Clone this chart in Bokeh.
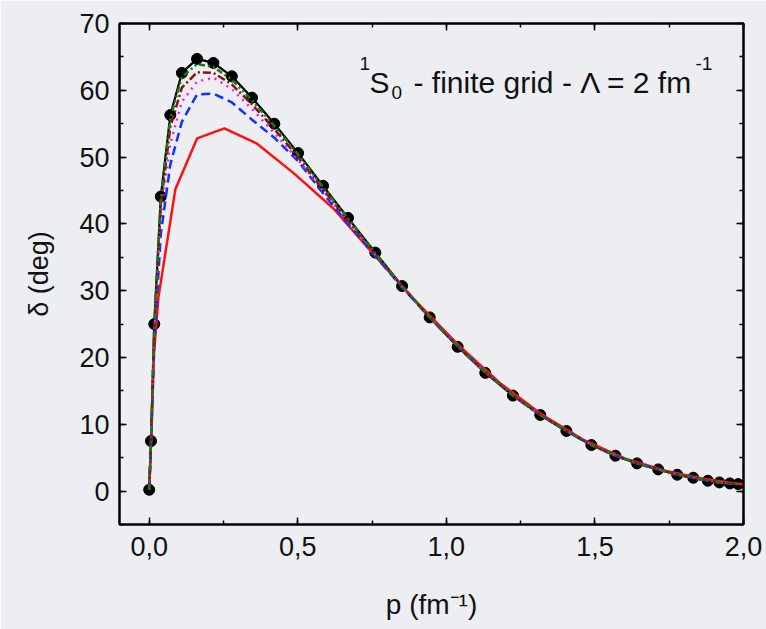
from bokeh.plotting import figure
from bokeh.models import Range1d, LinearAxis, SingleIntervalTicker, CustomJSTickFormatter, Label
from bokeh.embed import file_html
from bokeh.resources import INLINE

# ---- data ----
p_grid = [0.0, 0.006, 0.017, 0.039, 0.071, 0.110, 0.161, 0.216, 0.278, 0.346, 0.421, 0.501,
          0.585, 0.669, 0.761, 0.851, 0.944, 1.038, 1.131, 1.224, 1.316, 1.404, 1.488, 1.569,
          1.642, 1.713, 1.777, 1.831, 1.880, 1.919, 1.954, 1.982]
delta_black = [0.2, 7.5, 25.0, 44.1, 56.3, 62.6, 64.7, 64.1, 62.1, 58.9, 55.0, 50.6,
               45.7, 40.9, 35.7, 30.7, 26.0, 21.6, 17.7, 14.3, 11.4, 9.0, 6.9, 5.3,
               4.15, 3.25, 2.45, 2.0, 1.55, 1.3, 1.15, 1.05]
delta_green = [0.2, 7.4, 24.8, 43.7, 55.8, 62.0, 63.9, 63.5, 61.6, 58.5, 54.7, 50.4,
               45.5, 40.8, 35.6, 30.7, 26.0, 21.7, 17.8, 14.3, 11.4, 9.0, 6.9, 5.3,
               4.15, 3.25, 2.45, 2.0, 1.55, 1.3, 1.15, 1.05]
delta_darkred = [0.2, 7.3, 24.4, 42.8, 54.5, 60.4, 62.7, 62.6, 60.9, 57.9, 54.2, 50.0,
                 45.2, 40.5, 35.5, 30.6, 26.0, 21.7, 17.8, 14.3, 11.4, 9.0, 6.9, 5.3,
                 4.15, 3.25, 2.45, 2.0, 1.55, 1.3, 1.15, 1.05]
delta_magenta = [0.2, 7.2, 24.0, 41.5, 52.0, 58.3, 61.3, 61.9, 60.2, 57.2, 53.6, 49.6,
                 45.0, 40.3, 35.4, 30.6, 26.0, 21.7, 17.8, 14.3, 11.4, 9.0, 6.9, 5.3,
                 4.15, 3.25, 2.45, 2.0, 1.55, 1.3, 1.15, 1.05]
delta_blue = [0.2, 7.0, 22.0, 38.5, 48.9, 55.3, 59.4, 59.5, 58.2, 55.6, 52.9, 49.4,
              44.6, 40.0, 35.2, 30.5, 26.0, 21.7, 17.8, 14.3, 11.4, 9.0, 6.9, 5.3,
              4.15, 3.25, 2.45, 2.0, 1.55, 1.3, 1.15, 1.05]
p_red = [0.0, 0.006, 0.016, 0.031, 0.088, 0.161, 0.253, 0.363, 0.486, 0.62, 0.76, 0.90,
         1.04, 1.18, 1.32, 1.46, 1.60, 1.74, 1.86, 1.95, 2.0]
delta_red = [0.2, 7.0, 20.5, 29.0, 45.2, 52.8, 54.3, 52.0, 47.6, 42.3, 35.2, 28.3,
             21.9, 16.2, 11.5, 7.7, 4.9, 3.0, 1.9, 1.3, 1.0]

X_RANGE = (-0.1, 2.0)
Y_RANGE = (-5, 70)
BG = "#eceef2"
FONT = "Liberation Sans"
INK = "#111111"

W, H = 766, 629
FL, FR, FT, FB = 119, 743, 23, 524  # frame edges in pixels

p = figure(width=W, height=H, x_range=Range1d(*X_RANGE), y_range=Range1d(*Y_RANGE),
           output_backend="svg", toolbar_location=None,
           min_border_left=FL, min_border_right=W - FR, min_border_top=FT, min_border_bottom=H - FB)
p.background_fill_color = BG
p.border_fill_color = BG
p.outline_line_color = "black"
p.outline_line_width = 2
p.grid.visible = False

xt = SingleIntervalTicker(interval=0.5, num_minor_ticks=2)
yt = SingleIntervalTicker(interval=10, num_minor_ticks=2)

blank = CustomJSTickFormatter(code="return '';")
top = LinearAxis(ticker=xt, formatter=blank)
right = LinearAxis(ticker=yt, formatter=blank)
p.add_layout(top, "above")
p.add_layout(right, "right")

for ax in p.xaxis:
    ax.ticker = xt
for ax in p.yaxis:
    ax.ticker = yt

for ax in list(p.xaxis) + list(p.yaxis):
    ax.axis_line_width = 2
    ax.major_tick_in = 7
    ax.major_tick_out = 0
    ax.minor_tick_in = 4
    ax.minor_tick_out = 0
    ax.major_tick_line_width = 1.5
    ax.minor_tick_line_width = 1.5
    ax.major_label_text_font = FONT
    ax.major_label_text_font_size = "27px"
    ax.major_label_text_color = INK
    ax.axis_label_text_font = FONT
    ax.axis_label_text_font_size = "28px"
    ax.axis_label_text_font_style = "normal"
    ax.axis_label_text_color = INK

top.major_label_standoff = 0
right.major_label_standoff = 0

bottom = p.below[0]
left = p.left[0]
bottom.formatter = CustomJSTickFormatter(code="return tick.toFixed(1).replace('.', ',');")
bottom.major_label_standoff = 12
bottom.axis_label = "p (fm\u207b\u00b9)"
bottom.axis_label_standoff = 30
left.major_label_standoff = 10
left.axis_label = "\u03b4 (deg)"
left.axis_label_standoff = 22
left.axis_label_text_font_size = "27px"

# ---- curves ----
p.scatter(p_grid, delta_black, size=11, color="black")
p.line(p_grid, delta_black, line_color="black", line_width=2.2)
p.line(p_red, delta_red, line_color="#ff1010", line_width=2.5)
p.line(p_grid, delta_blue, line_color="#1030ff", line_width=2.5, line_dash="9 5")
p.line(p_grid, delta_magenta, line_color="#ff10ff", line_width=2.5, line_dash="2 5")
p.line(p_grid, delta_darkred, line_color="#8b1010", line_width=2.5, line_dash="8 3 2 3")
p.line(p_grid, delta_green, line_color="#108010", line_width=2.5, line_dash="6 3 2 3 2 3")

# ---- title with super/subscripts (pixel -> data helpers) ----
def dx(px):
    return X_RANGE[0] + (px - FL) / (FR - FL) * (X_RANGE[1] - X_RANGE[0])

def dy(py):
    return Y_RANGE[1] - (py - FT) / (FB - FT) * (Y_RANGE[1] - Y_RANGE[0])

pieces = [
    ("1", 359, 63, "19px"),
    ("S", 369, 82, "30px"),
    ("0", 391, 92, "19px"),
    ("- finite grid - \u039b = 2 fm", 413, 82, "30px"),
    ("-1", 695, 63, "19px"),
]
for txt, px, py, fs in pieces:
    p.add_layout(Label(x=dx(px), y=dy(py), text=txt, text_font=FONT, text_font_size=fs,
                       text_color=INK, text_baseline="alphabetic", text_align="left"))

open("out.html", "w").write(file_html(p, INLINE))
